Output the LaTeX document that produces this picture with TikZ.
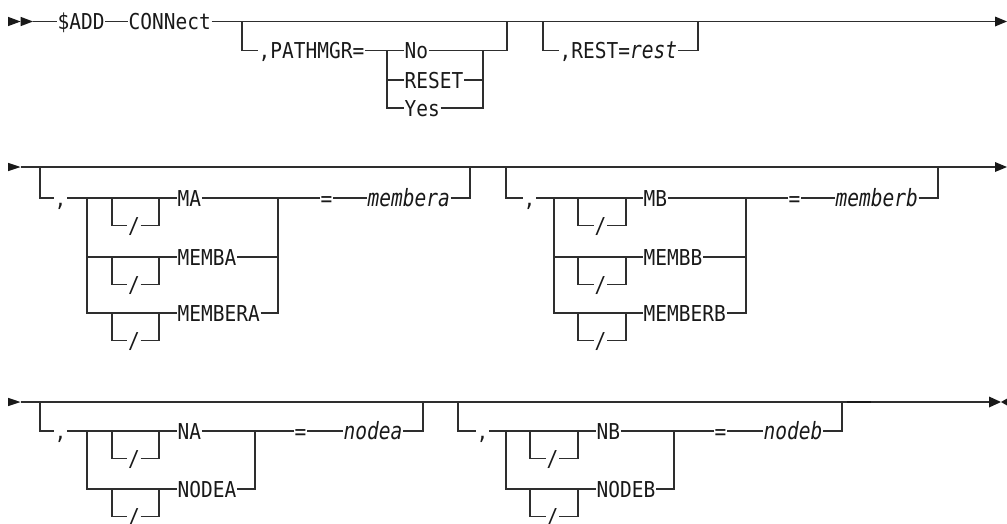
\documentclass[tikz,border=0pt]{standalone}
\usepackage{fontspec}
\newfontfamily\dmono{DejaVu Sans Mono}[FakeStretch=0.89]
\newfontfamily\dmit{DejaVu Sans Mono}[FakeStretch=0.82]
\newcommand\var[1]{{\dmit\fontsize{23.8}{26}\selectfont\itshape #1}}
\tikzset{
  t/.style={font=\dmono\fontsize{21.9}{24}\selectfont, text=black!90, inner xsep=0.5pt, inner ysep=0pt, text height=18pt, text depth=2pt, anchor=west},
  ln/.style={line width=1.3pt, draw=black!82},
  tri/.style={fill=black!90, draw=none},
}
\newcommand\slashloop[4]{%
  \coordinate (#1a) at (#2,#4);
  \coordinate (#1b) at (#3,#4);
  \node[t, anchor=center] (#1s) at ({(#2+#3)/2-1.5},{#4+27.5}) {/};
  \draw[ln] (#1a) |- (#1s.west);
  \draw[ln] (#1s.east) -| (#1b);
}
\begin{document}
\begin{tikzpicture}[x=1pt,y=-1pt]
\useasboundingbox (0,0) rectangle (1007,523);
% ---------------- Row 1 ----------------
\fill[tri] (8,16.8) -- (20.6,21.5) -- (8,26.2) -- cycle;
\fill[tri] (20.6,16.8) -- (33,21.5) -- (20.6,26.2) -- cycle;
\coordinate (s1) at (33,21.5);
\coordinate (e1) at (995,21.5);
\fill[tri] (995,16.5) -- (1007,21.5) -- (995,26.5) -- cycle;
\node[t] (add) at (57,21.5) {\$ADD};
\node[t] (conn) at (128,21.5) {CONNect};
\draw[ln] (s1) -- (add.west);
\draw[ln] (add.east) -- (conn.west);
\draw[ln] (conn.east) -- (e1);
% PATHMGR branch
\coordinate (p0) at (242,21.5);
\node[t] (pm) at (258,50.7) {,PATHMGR=};
\node[t] (no) at (404,50.7) {No};
\node[t] (reset) at (404,80) {RESET};
\node[t] (yes) at (404,108) {Yes};
\coordinate (pl) at (387,50.7);
\coordinate (pr) at (483,50.7);
\coordinate (pu) at (507,50.7);
\coordinate (pu0) at (507,21.5);
\draw[ln] (p0) |- (pm.west);
\draw[ln] (pm.east) -- (no.west);
\draw[ln] (pl) |- (yes.west);
\draw[ln] (reset.west -| pl) -- (reset.west);
\draw[ln] (no.east) -- (pu) -- (pu0);
\draw[ln] (reset.east) -- (reset.east -| pr);
\draw[ln] (yes.east) -| (pr);
% REST branch
\coordinate (r0) at (543,21.5);
\coordinate (r1) at (698,21.5);
\node[t] (rest) at (559,50.7) {,REST=\var{rest}};
\draw[ln] (r0) |- (rest.west);
\draw[ln] (rest.east) -| (r1);
% ---------------- Row 2 ----------------
\fill[tri] (8,162.8) -- (20.5,167) -- (8,171.2) -- cycle;
\coordinate (s2) at (20.5,167);
\coordinate (e2) at (995,167);
\fill[tri] (995,162) -- (1007,167) -- (995,172) -- cycle;
\draw[ln] (s2) -- (e2);
% group A
\coordinate (a0) at (40,167);
\node[t] (acm) at (54,198) {,};
\node[t] (ma) at (177,198) {MA};
\node[t] (memba) at (177,257) {MEMBA};
\node[t] (membera) at (177,313) {MEMBERA};
\node[t] (aeq) at (320,198) {=};
\node[t] (avar) at (367,198) {\var{membera}};
\coordinate (aL) at (87,198);
\coordinate (aR) at (278,198);
\coordinate (aU) at (470,167);
\draw[ln] (a0) |- (acm.west);
\draw[ln] (acm.east) -- (ma.west);
\draw[ln] (aL) |- (membera.west);
\draw[ln] (memba.west -| aL) -- (memba.west);
\draw[ln] (ma.east) -- (aeq.west);
\draw[ln] (memba.east) -- (memba.east -| aR);
\draw[ln] (membera.east) -| (aR);
\draw[ln] (aeq.east) -- (avar.west);
\draw[ln] (avar.east) -| (aU);
\slashloop{la1}{112}{159}{198}
\slashloop{la2}{112}{159}{257}
\slashloop{la3}{112}{159}{313}
% group B
\coordinate (b0) at (506,167);
\node[t] (bcm) at (523,198) {,};
\node[t] (mb) at (643,198) {MB};
\node[t] (membb) at (643,257) {MEMBB};
\node[t] (memberb) at (643,313) {MEMBERB};
\node[t] (beq) at (788,198) {=};
\node[t] (bvar) at (835,198) {\var{memberb}};
\coordinate (bL) at (554,198);
\coordinate (bR) at (746,198);
\coordinate (bU) at (938,167);
\draw[ln] (b0) |- (bcm.west);
\draw[ln] (bcm.east) -- (mb.west);
\draw[ln] (bL) |- (memberb.west);
\draw[ln] (membb.west -| bL) -- (membb.west);
\draw[ln] (mb.east) -- (beq.west);
\draw[ln] (membb.east) -- (membb.east -| bR);
\draw[ln] (memberb.east) -| (bR);
\draw[ln] (beq.east) -- (bvar.west);
\draw[ln] (bvar.east) -| (bU);
\slashloop{lb1}{578}{626}{198}
\slashloop{lb2}{578}{626}{257}
\slashloop{lb3}{578}{626}{313}
% ---------------- Row 3 ----------------
\fill[tri] (8,397.8) -- (20.5,402) -- (8,406.2) -- cycle;
\coordinate (s3) at (20.5,402);
\coordinate (e3) at (989,402);
\fill[tri] (989,396.5) -- (1001,402) -- (989,407.5) -- cycle;
\fill[tri] (1008,398) -- (1001,402) -- (1008,406) -- cycle;
\draw[ln] (s3) -- (e3);
\draw[line width=2.4pt, black!90] (847,402) -- (871,402);
% group C
\coordinate (c0) at (40,402);
\node[t] (ccm) at (54,431) {,};
\node[t] (na) at (177,431) {NA};
\node[t] (nodea) at (177,489) {NODEA};
\node[t] (ceq) at (294,431) {=};
\node[t] (cvar) at (343,431) {\var{nodea}};
\coordinate (cL) at (87,431);
\coordinate (cR) at (255,431);
\coordinate (cU) at (423,402);
\draw[ln] (c0) |- (ccm.west);
\draw[ln] (ccm.east) -- (na.west);
\draw[ln] (cL) |- (nodea.west);
\draw[ln] (na.east) -- (ceq.west);
\draw[ln] (nodea.east) -| (cR);
\draw[ln] (ceq.east) -- (cvar.west);
\draw[ln] (cvar.east) -| (cU);
\slashloop{lc1}{112}{159}{431}
\slashloop{lc2}{112}{159}{489}
% group D
\coordinate (d0) at (458,402);
\node[t] (dcm) at (476,431) {,};
\node[t] (nb) at (596,431) {NB};
\node[t] (nodeb) at (596,489) {NODEB};
\node[t] (deq) at (714,431) {=};
\node[t] (dvar) at (763,431) {\var{nodeb}};
\coordinate (dL) at (506,431);
\coordinate (dR) at (674,431);
\coordinate (dU) at (842,402);
\draw[ln] (d0) |- (dcm.west);
\draw[ln] (dcm.east) -- (nb.west);
\draw[ln] (dL) |- (nodeb.west);
\draw[ln] (nb.east) -- (deq.west);
\draw[ln] (nodeb.east) -| (dR);
\draw[ln] (deq.east) -- (dvar.west);
\draw[ln] (dvar.east) -| (dU);
\slashloop{ld1}{530}{578}{431}
\slashloop{ld2}{530}{578}{489}
\end{tikzpicture}
\end{document}
